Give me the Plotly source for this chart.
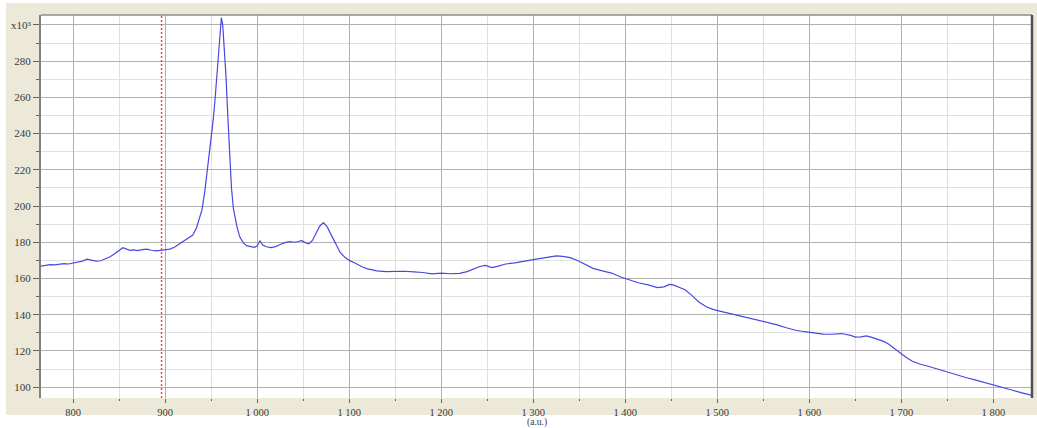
import plotly.graph_objects as go

# Raman-type spectrum: wavenumber vs intensity (x10^3 counts)
wavenumber = [
    765, 770, 775, 780, 785, 790, 795, 800, 805, 810, 815, 820, 825, 830, 835, 840,
    845, 850, 854, 858, 862, 866, 870, 875, 880, 885, 890, 895, 900, 905, 910, 915,
    920, 925, 930, 934, 937, 940, 943, 946, 949, 952, 954, 956, 958, 959.5, 961,
    962.5, 964, 966, 968, 970, 972, 974, 976, 978, 981, 985, 989, 993, 997, 1000,
    1003, 1006, 1010, 1015, 1020, 1025, 1030, 1035, 1040, 1045, 1048, 1052, 1056,
    1060, 1064, 1068, 1072, 1076, 1080, 1085, 1090, 1095, 1100, 1105, 1110, 1115,
    1120, 1130, 1140, 1150, 1160, 1170, 1180, 1190, 1200, 1210, 1220, 1228, 1235,
    1242, 1248, 1255, 1262, 1270, 1280, 1290, 1300, 1310, 1318, 1325, 1332, 1340,
    1348, 1356, 1365, 1375, 1385, 1395, 1405, 1415, 1425, 1435, 1442, 1448, 1452,
    1458, 1465, 1472, 1480, 1488, 1496, 1505, 1515, 1525, 1535, 1545, 1555, 1565,
    1575, 1585, 1595, 1605, 1615, 1625, 1635, 1645, 1650, 1656, 1662, 1668, 1674,
    1680, 1686, 1692, 1698, 1705, 1712, 1720, 1730, 1740, 1750, 1760, 1770, 1780,
    1790, 1800, 1810, 1820, 1830, 1842,
]
intensity = [
    166.8, 167.2, 167.6, 167.5, 168.0, 168.2, 168.0, 168.4, 169.0, 169.6, 170.7, 170.2,
    169.6, 169.8, 170.8, 172.0, 173.6, 175.6, 177.0, 176.2, 175.5, 175.8, 175.4, 175.9,
    176.2, 175.6, 175.2, 175.5, 175.7, 176.2, 177.2, 178.8, 180.8, 182.2, 184.0, 188.0,
    192.5, 198.0, 208.0, 220.0, 234.0, 247.0, 258.0, 272.0, 288.0, 299.0, 304.0,
    300.0, 290.0, 272.0, 250.0, 228.0, 210.0, 199.0, 193.0, 188.5, 183.0, 179.5, 178.0,
    177.4, 177.2, 178.0, 180.8, 178.5, 177.5, 177.1, 177.6, 178.8, 179.8, 180.3, 180.0,
    180.4, 181.0, 179.8, 179.2, 181.0, 185.0, 189.0, 190.8, 188.5, 184.5, 179.5, 174.5,
    171.8, 170.0, 168.8, 167.3, 166.2, 165.3, 164.2, 163.8, 163.9, 164.0, 163.6, 163.3,
    162.5, 163.0, 162.6, 162.8, 163.8, 165.4, 166.6, 167.2, 166.0, 166.8, 168.0, 168.6,
    169.3, 170.4, 171.2, 172.0, 172.5, 172.2, 171.5, 169.9, 167.8, 165.6, 164.2, 163.0,
    160.8, 159.0, 157.5, 156.5, 155.0, 155.4, 156.7, 156.5, 155.2, 153.8, 150.8, 147.0,
    144.4, 142.8, 141.7, 140.5, 139.2, 138.0, 137.0, 135.9, 134.4, 132.8, 131.4, 130.6,
    130.0, 129.3, 129.2, 129.6, 128.6, 127.6, 127.8, 128.3, 127.5, 126.6, 125.4, 123.8,
    121.5, 118.8, 116.5, 114.3, 112.8, 111.4, 109.8, 108.3, 106.8, 105.3, 104.0, 102.5,
    101.1, 99.6, 98.4, 97.0, 95.4,
]

# Axis ticks
x_tick_vals = [800, 900, 1000, 1100, 1200, 1300, 1400, 1500, 1600, 1700, 1800]
x_tick_text = ["800", "900", "1 000", "1 100", "1 200", "1 300", "1 400",
               "1 500", "1 600", "1 700", "1 800"]
y_tick_vals = [100, 120, 140, 160, 180, 200, 220, 240, 260, 280, 300]
y_tick_text = ["100", "120", "140", "160", "180", "200", "220", "240", "260", "280",
               "x10³"]

# Cursor position marked by the dotted red line
cursor_x = 896

BEIGE = "#ECE9D8"
SERIF = "Liberation Serif, DejaVu Serif, serif"
TICK_FONT = dict(family=SERIF, size=11, color="#3a3a3a")

fig = go.Figure()
fig.add_trace(go.Scatter(
    x=wavenumber, y=intensity, mode="lines",
    line=dict(color="#4848E0", width=1.2),
    hoverinfo="skip", showlegend=False,
))

fig.update_layout(
    width=1037, height=428,
    margin=dict(l=41, r=5, t=15, b=30),
    paper_bgcolor=BEIGE,
    plot_bgcolor="white",
    showlegend=False,
    xaxis=dict(
        range=[765, 1842],
        tickmode="array", tickvals=x_tick_vals, ticktext=x_tick_text,
        showgrid=True, gridcolor="#B0B0B0", gridwidth=1,
        ticks="outside", ticklen=4, tickcolor="#606060", tickwidth=1,
        minor=dict(tickmode="linear", tick0=750, dtick=50, showgrid=True,
                   gridcolor="#E0E0E0", gridwidth=1,
                   ticks="outside", ticklen=2, tickcolor="#606060"),
        showline=False, zeroline=False,
        tickfont=dict(family=SERIF, size=10.5, color="#3a3a3a"),
    ),
    yaxis=dict(
        range=[94, 305.5],
        tickmode="array", tickvals=y_tick_vals, ticktext=y_tick_text,
        showgrid=True, gridcolor="#B0B0B0", gridwidth=1,
        ticks="outside", ticklen=6, tickcolor="#606060", tickwidth=1,
        minor=dict(tickmode="linear", tick0=90, dtick=10, showgrid=True,
                   gridcolor="#E0E0E0", gridwidth=1,
                   ticks="outside", ticklen=3, tickcolor="#606060"),
        showline=True, linecolor="#808080", linewidth=2,
        zeroline=False,
        tickfont=TICK_FONT,
    ),
    shapes=[
        # white image border strips
        dict(type="rect", xref="paper", yref="paper", x0=-0.05, x1=-0.0353,
             y0=-0.1, y1=1.1, fillcolor="white", line=dict(width=0), layer="below"),
        dict(type="rect", xref="paper", yref="paper", x0=-0.05, x1=1.01,
             y0=-0.1, y1=-0.0444, fillcolor="white", line=dict(width=0), layer="below"),
        dict(type="rect", xref="paper", yref="paper", x0=-0.05, x1=1.01,
             y0=1.0313, y1=1.1, fillcolor="white", line=dict(width=0), layer="below"),
        # frame: top and right edges
        dict(type="line", xref="paper", yref="paper", x0=0, x1=1, y0=1, y1=1,
             line=dict(color="#8C8C8C", width=1.5)),
        dict(type="line", xref="paper", yref="paper", x0=1, x1=1, y0=0, y1=1,
             line=dict(color="#505050", width=2.5)),
        # cursor line
        dict(type="line", xref="x", yref="paper", x0=cursor_x, x1=cursor_x, y0=0, y1=1,
             line=dict(color="#F04848", width=1.5, dash="2px,2px")),
    ],
    annotations=[
        dict(text="(a.u.)", xref="paper", yref="paper", x=0.5, y=-0.063,
             xanchor="center", yanchor="middle", showarrow=False,
             font=dict(family=SERIF, size=9.5, color="#3a3a3a")),
    ],
)

fig.write_html("out.html")
